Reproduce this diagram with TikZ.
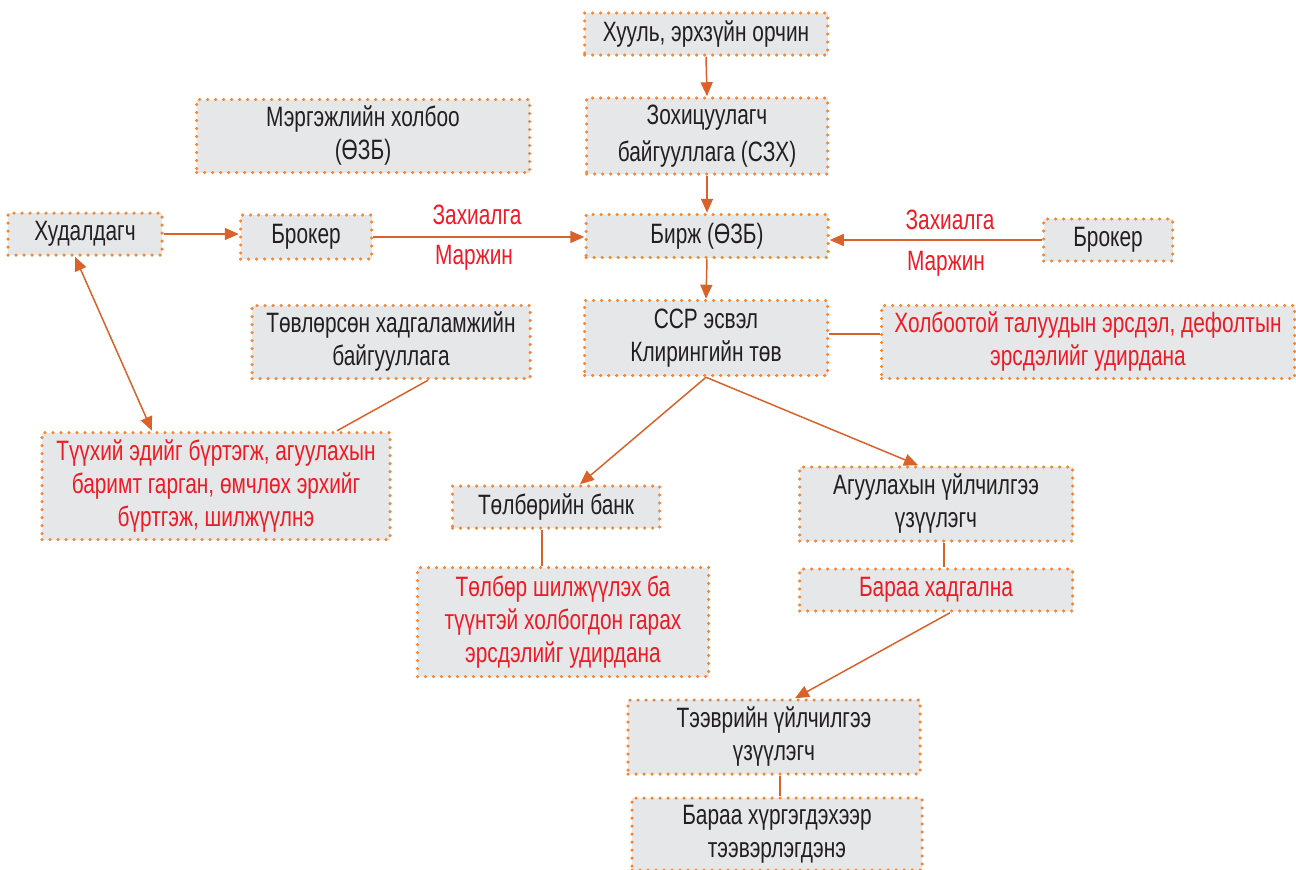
\documentclass[tikz,border=0pt]{standalone}
\usepackage{fontspec}
\setmainfont{Liberation Sans}[FakeStretch=0.745]
\usetikzlibrary{arrows.meta}
\definecolor{boxc}{HTML}{E6E7E8}
\definecolor{dotc}{HTML}{F58634}
\definecolor{arrc}{HTML}{D9622B}
\definecolor{txtc}{HTML}{231F20}
\definecolor{redc}{HTML}{ED1C24}
\tikzset{
  fs/.style={font=\fontsize{28}{33}\selectfont},
  box/.style={draw=dotc, fill=boxc, line width=3.5pt, dash pattern=on 0pt off 8pt,
    line cap=round, inner sep=0pt, align=center, text=txtc, fs},
  rbox/.style={box, text=redc},
  sz/.style 2 args={minimum width=#1pt, minimum height=#2pt},
  arr/.style={-{Triangle[length=14pt,width=12pt]}, line width=1.5pt, draw=arrc},
  darr/.style={{Triangle[length=14pt,width=12pt]}-{Triangle[length=14pt,width=12pt]}, line width=1.5pt, draw=arrc},
  ln/.style={line width=1.5pt, draw=arrc},
  lbl/.style={text=redc, fs, inner sep=0pt}
}
\begin{document}
\begin{tikzpicture}[x=1pt,y=-1pt]
\useasboundingbox (0,0) rectangle (1296,870);
\node[box, sz={243}{42}] (n1) at (706,34) {Хууль, эрхзүйн орчин};
\node[box, sz={241}{76}] (n2) at (707,136) {Зохицуулагч\\[4pt]байгууллага (СЗХ)};
\node[box, sz={333}{73}] (n3) at (363,136) {Мэргэжлийн холбоо\\(ӨЗБ)};
\node[box, sz={154}{42}] (n4) at (85,234) {Худалдагч};
\node[box, sz={131}{44}] (n5) at (306,237) {Брокер};
\node[box, sz={242}{43}] (n6) at (707,236) {Бирж (ӨЗБ)};
\node[box, sz={129}{42}] (n7) at (1108,240) {Брокер};
\node[box, sz={278}{73}] (n8) at (391,342) {Төвлөрсөн хадгаламжийн\\байгууллага};
\node[box, sz={243}{75}] (n9) at (706,338) {CCP эсвэл\\Клирингийн төв};
\node[rbox, sz={413}{73}] (n10) at (1088,342) {Холбоотой талуудын эрсдэл, дефолтын\\эрсдэлийг удирдана};
\node[rbox, sz={348}{107}] (n11) at (216,486) {Түүхий эдийг бүртэгж, агуулахын\\баримт гарган, өмчлөх эрхийг\\бүртгэж, шилжүүлнэ};
\node[box, sz={207}{42}] (n12) at (556,507) {Төлбөрийн банк};
\node[box, sz={273}{74}] (n13) at (936,504) {Агуулахын үйлчилгээ\\үзүүлэгч};
\node[rbox, sz={291}{109}] (n14) at (563,622) {Төлбөр шилжүүлэх ба\\түүнтэй холбогдон гарах\\эрсдэлийг удирдана};
\node[rbox, sz={273}{42}] (n15) at (936,590) {Бараа хадгална};
\node[box, sz={292}{74}] (n16) at (774,737) {Тээврийн үйлчилгээ\\үзүүлэгч};
\node[box, sz={290}{72}] (n17) at (777,834) {Бараа хүргэгдэхээр\\тээвэрлэгдэнэ};
\node[lbl] (l1) at (477,215) {Захиалга};
\node[lbl] (l2) at (474,258) {Маржин};
\node[lbl] (l3) at (950,220) {Захиалга};
\node[lbl] (l4) at (946,264) {Маржин};
\draw[arr] (n1.south) -- (n2.north);
\draw[arr] (n2.south) -- (n6.north);
\draw[arr] (n6.south) -- (n9.north);
\draw[arr] (n4.east) -- (n4.east -| n5.west);
\draw[arr] (n5.east) -- (n5.east -| n6.west);
\draw[arr] (n7.west) -- (n7.west -| n6.east);
\draw[ln] ([yshift=4pt]n9.east) -- ([yshift=4pt]n9.east -| n10.west);
\draw[darr] ([xshift=-10pt]n4.south) -- ([xshift=-64pt]n11.north);
\draw[ln] ([xshift=37pt]n8.south) -- ([xshift=121pt]n11.north);
\draw[arr] (n9.south) -- ([xshift=24pt]n12.north);
\draw[arr] (n9.south) -- ([xshift=-18pt]n13.north);
\draw[ln] ([xshift=-14pt]n12.south) -- ([xshift=-14pt]n12.south |- n14.north);
\draw[ln] ([xshift=8pt]n13.south) -- ([xshift=8pt]n13.south |- n15.north);
\draw[arr] ([xshift=14pt]n15.south) -- ([xshift=21pt]n16.north);
\draw[ln] ([xshift=6pt]n16.south) -- ([xshift=6pt]n16.south |- n17.north);
\end{tikzpicture}
\end{document}
